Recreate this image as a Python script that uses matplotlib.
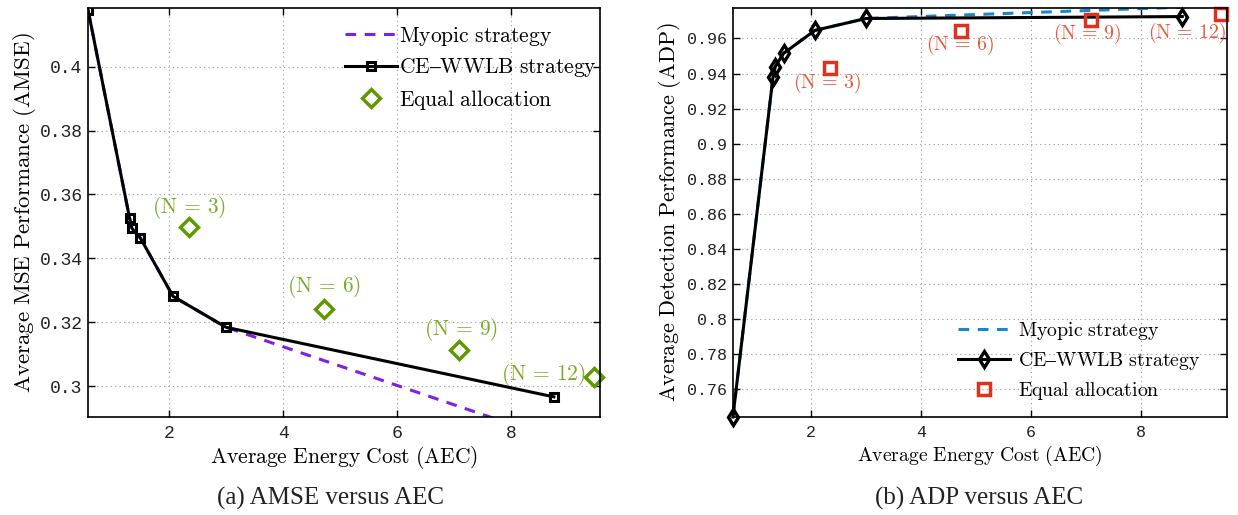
import numpy as np
import matplotlib
matplotlib.use("Agg")
import matplotlib.pyplot as plt

plt.rcParams['mathtext.fontset'] = 'cm'

# data
ce_aec = [0.58, 1.31, 1.35, 1.50, 2.07, 3.0, 8.75]
ce_amse = [0.4178, 0.3525, 0.3494, 0.3463, 0.3281, 0.3184, 0.2966]
ce_adp = [0.744, 0.9383, 0.944, 0.9515, 0.9646, 0.9714, 0.9725]

myo_aec = [0.58, 1.31, 1.35, 1.50, 2.07, 3.0, 8.75]
myo_amse = [0.4178, 0.3525, 0.3494, 0.3463, 0.3281, 0.3184, 0.2835]
myo_adp = [0.744, 0.9383, 0.944, 0.9515, 0.9646, 0.9714, 0.9779]

eq_aec = [2.35, 4.72, 7.09, 9.46]
eq_amse = [0.3497, 0.3241, 0.3113, 0.3028]
eq_adp = [0.9434, 0.964, 0.9708, 0.9742]
eq_n = [3, 6, 9, 12]

# label offsets (pixels) from each equal-allocation marker
off_a = [(0, 20), (0, 23), (2, 20), (-51, 3)]
off_b = [(-3, -15), (0, -13), (-4, -14), (-34, -19)]

fig = plt.figure(figsize=(12.38, 5.15), dpi=100)
ax1 = fig.add_axes([0.0711, 0.1903, 0.4136, 0.7942])
ax2 = fig.add_axes([0.592, 0.1903, 0.399, 0.7942])

def tex(s):
    return r'$\mathrm{' + s.replace(' ', r'\ ') + '}$'

def nlab(n):
    return r'$(\mathrm{N}\,=\,%d)$' % n

def style(ax, yticks, tsize, lsize, ylab, ysize, ylx):
    ax.set_xlim(0.58, 9.56)
    ax.set_xticks([2, 4, 6, 8])
    ax.set_yticks(yticks)
    ax.set_yticklabels([('%.2f' % v).rstrip('0') for v in yticks])
    ax.grid(True, linestyle=(0, (1, 3)), color='#999999', linewidth=0.8)
    ax.tick_params(direction='in', top=True, right=True, length=5, width=1,
                   labelsize=tsize, labelcolor='#222222')
    ax.tick_params(axis='x', pad=6)
    ax.tick_params(axis='y', pad=4)
    for lab in ax.get_xticklabels() + ax.get_yticklabels():
        lab.set_family('Liberation Mono')
    for sp in ax.spines.values():
        sp.set_linewidth(1.2)
    ax.set_xlabel(tex('Average Energy Cost (AEC)'), fontsize=lsize)
    ax.xaxis.set_label_coords(0.5, -0.066)
    ax.set_ylabel(tex(ylab), fontsize=ysize)
    ax.yaxis.set_label_coords(ylx, 0.5)

# (a) AMSE
ax1.plot(myo_aec, myo_amse, '--', color='#7f1fe8', lw=2.2, dashes=(3.5, 2.8),
         label=tex('Myopic strategy'))
ax1.plot(ce_aec, ce_amse, '-', color='black', lw=2.2, marker='s', ms=6,
         mfc='none', mec='black', mew=2.2, label=tex('CE–WWLB strategy'))
ax1.plot(eq_aec, eq_amse, 'D', color='#5f9900', ms=9, mfc='none', mew=2.5,
         label=tex('Equal allocation'), clip_on=False)
for x, y, n, o in zip(eq_aec, eq_amse, eq_n, off_a):
    ax1.annotate(nlab(n), (x, y), xytext=o,
                 textcoords='offset pixels', ha='center', va='center',
                 fontsize=15.5, color='#7aaa2a')
ax1.set_ylim(0.2903, 0.4184)
style(ax1, [0.3, 0.32, 0.34, 0.36, 0.38, 0.4], 13, 15.5,
      'Average MSE Performance (AMSE)', 16.5, -0.098)
ax1.legend(loc='upper right', frameon=False, fontsize=15.5, handlelength=2.4,
           handletextpad=0.1, borderaxespad=0.6, labelspacing=0.4,
           bbox_to_anchor=(1.036, 1.012))

# (b) ADP
ax2.plot(myo_aec, myo_adp, '--', color='#1a86cc', lw=2.2, dashes=(3.5, 2.8),
         label=tex('Myopic strategy'))
ax2.plot(ce_aec, ce_adp, '-', color='black', lw=2.2, marker='d', ms=8,
         mfc='none', mec='black', mew=2.4, label=tex('CE–WWLB strategy'),
         clip_on=False)
ax2.plot(eq_aec, eq_adp, 's', color='#e0301e', ms=8, mfc='none', mew=2.5,
         label=tex('Equal allocation'), clip_on=False)
for x, y, n, o in zip(eq_aec, eq_adp, eq_n, off_b):
    ax2.annotate(nlab(n), (x, y), xytext=o,
                 textcoords='offset pixels', ha='center', va='center',
                 fontsize=14.3, color='#e8583c')
ax2.set_ylim(0.744, 0.9774)
style(ax2, [0.76, 0.78, 0.8, 0.82, 0.84, 0.86, 0.88, 0.9, 0.92, 0.94, 0.96],
      12, 14.2, 'Average Detection Performance (ADP)', 16, -0.102)
ax2.legend(loc='lower right', frameon=False, fontsize=14.3, handlelength=2.6,
           handletextpad=0.4, borderaxespad=0.0, labelspacing=0.4,
           bbox_to_anchor=(0.963, 0.018))

fig.text(0.267, 0.033, '(a) AMSE versus AEC', ha='center', va='center',
         fontsize=18, family='Liberation Serif', color='#222222')
fig.text(0.791, 0.033, '(b) ADP versus AEC', ha='center', va='center',
         fontsize=18, family='Liberation Serif', color='#222222')

fig.savefig('out.png', dpi=100)
